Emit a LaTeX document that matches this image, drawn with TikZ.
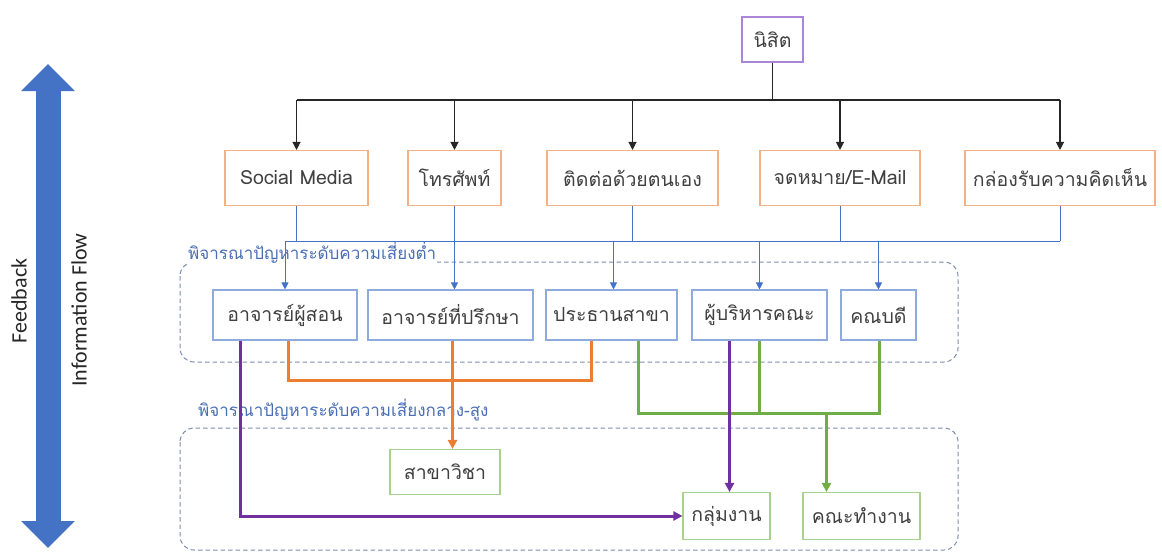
\documentclass[tikz,border=0pt]{standalone}
\usepackage{fontspec}
\setmainfont{Carlito}
\newfontfamily\thaifont[Script=Thai]{Loma}
\usetikzlibrary{arrows.meta}

\definecolor{srcorange}{HTML}{F4B183}
\definecolor{staffblue}{HTML}{8FAADC}
\definecolor{unitgreen}{HTML}{A9D18E}
\definecolor{stdpurple}{HTML}{A987D6}
\definecolor{linkblue}{HTML}{4472C4}
\definecolor{riskorange}{HTML}{ED7D31}
\definecolor{riskgreen}{HTML}{70AD47}
\definecolor{riskpurple}{HTML}{7030A0}
\definecolor{zonegray}{HTML}{7B8DAE}
\definecolor{zonetext}{HTML}{4A6FB5}

\begin{document}
\begin{tikzpicture}[x=1pt, y=-1pt,
    box/.style={draw, line width=1.1pt, inner sep=0pt, text=black!75, font=\thaifont\fontsize{19.5}{22}\selectfont},
    srcbox/.style={box, draw=srcorange, minimum height=55pt},
    staffbox/.style={box, draw=staffblue, minimum height=50pt},
    unitbox/.style={box, draw=unitgreen, minimum height=47pt},
    zone/.style={draw=zonegray, dash pattern=on 4.5pt off 3pt, line width=1pt, rounded corners=14pt},
    zonelabel/.style={fill=white, inner xsep=1pt, inner ysep=0pt, text=zonetext, font=\thaifont\fontsize{17}{19}\selectfont},
    flowtext/.style={rotate=90, text=black!85, font=\fontsize{22}{24}\selectfont},
    tree/.style={line width=1.2pt, black!85},
    treearrow/.style={tree, -{Triangle[width=8pt, length=8pt]}},
    link/.style={line width=1pt, linkblue},
    linkarrow/.style={link, -{Triangle[width=7pt, length=7pt]}},
    path/.style={line width=3pt},
    patharrow/.style={path, -{Triangle[width=9pt, length=9pt]}}
]
\useasboundingbox (0,0) rectangle (1162,552);

% Feedback / information flow
\coordinate (flowtop) at (48,64);
\coordinate (flowbot) at (48,548);
\draw[linkblue, line width=25pt, {Triangle[width=52pt, length=27pt]}-{Triangle[width=52pt, length=27pt]}] (flowbot) -- (flowtop);
\node[flowtext] (fbtxt) at (19,301) {Feedback};
\node[flowtext] (iftxt) at (79,310) {Information Flow};

% Risk zones
\draw[zone] (180,262) rectangle (958,362);
\draw[zone] (180,428) rectangle (958,550);
\node[zonelabel, anchor=west] (lowlbl) at (187,253) {พิจารณาปัญหาระดับความเสี่ยงต่ำ};
\node[zonelabel, anchor=west] (highlbl) at (197,410) {พิจารณาปัญหาระดับความเสี่ยงกลาง-สูง};

% Student and channels
\node[box, draw=stdpurple, minimum width=61pt, minimum height=45pt] (student) at (772.5,39.5) {นิสิต};
\node[srcbox, minimum width=143pt] (social) at (296.5,178) {Social Media};
\node[srcbox, minimum width=93pt] (phone) at (454.5,178) {โทรศัพท์};
\node[srcbox, minimum width=171pt] (self) at (632.5,178) {ติดต่อด้วยตนเอง};
\node[srcbox, minimum width=160pt] (mail) at (840,178) {จดหมาย/E-Mail};
\node[srcbox, minimum width=190pt] (feedbox) at (1060,178) {กล่องรับความคิดเห็น};

% Low risk handlers
\node[staffbox, minimum width=144pt] (teacher) at (285,315) {อาจารย์ผู้สอน};
\node[staffbox, minimum width=165pt] (advisor) at (450.5,315) {อาจารย์ที่ปรึกษา};
\node[staffbox, minimum width=131pt] (chair) at (611.5,315) {ประธานสาขา};
\node[staffbox, minimum width=135pt] (exec) at (759.5,315) {ผู้บริหารคณะ};
\node[staffbox, minimum width=75pt] (dean) at (878.5,315) {คณบดี};

% Medium-high risk handlers
\node[unitbox, minimum width=110pt, minimum height=45pt] (major) at (445,472) {สาขาวิชา};
\node[unitbox, minimum width=87pt] (workgrp) at (726.5,516) {กลุ่มงาน};
\node[unitbox, minimum width=117pt] (committee) at (861.5,516) {คณะทำงาน};

% Student to channels
\coordinate (treebus) at (0,100);
\draw[tree] (student.south) -- (student.south |- treebus);
\draw[tree] (social.north |- treebus) -- (feedbox.north |- treebus);
\foreach \ch in {social,phone,self,mail,feedbox}
  \draw[treearrow] (\ch.north |- treebus) -- (\ch.north);

% Channels to low risk handlers
\coordinate (linkbus) at (0,241);
\foreach \ch in {social,phone,self,mail,feedbox}
  \draw[link] (\ch.south) -- (\ch.south |- linkbus);
\draw[link] (teacher.north |- linkbus) -- (feedbox.south |- linkbus);
\draw[linkarrow] (teacher.north |- linkbus) -- (teacher.north);
\draw[linkarrow] (phone.south |- linkbus) -- (phone.south |- advisor.north);
\draw[linkarrow] ([xshift=2pt]chair.north |- linkbus) -- ([xshift=2pt]chair.north);
\draw[linkarrow] (exec.north |- linkbus) -- (exec.north);
\draw[linkarrow] (dean.north |- linkbus) -- (dean.north);

% Escalation paths
\coordinate (orangebus) at (0,380);
\coordinate (greenbus) at (0,413);
\draw[path, riskorange] ([xshift=3pt]teacher.south) -- ([xshift=3pt]teacher.south |- orangebus) -| ([xshift=-20pt]chair.south);
\draw[patharrow, riskorange] ([xshift=2pt]advisor.south) -- ([xshift=2pt]advisor.south |- major.north);
\draw[path, riskgreen] ([xshift=27pt]chair.south) -- ([xshift=27pt]chair.south |- greenbus) -| ([xshift=1pt]dean.south);
\draw[path, riskgreen] (exec.south) -- (exec.south |- greenbus);
\draw[patharrow, riskgreen] ([xshift=-35pt]committee.north |- greenbus) -- ([xshift=-35pt]committee.north);
\draw[patharrow, riskpurple] ([xshift=-45pt]teacher.south) |- (workgrp.west);
\draw[patharrow, riskpurple] ([xshift=-30pt]exec.south) -- ([xshift=-30pt]exec.south |- workgrp.north);
\end{tikzpicture}
\end{document}
